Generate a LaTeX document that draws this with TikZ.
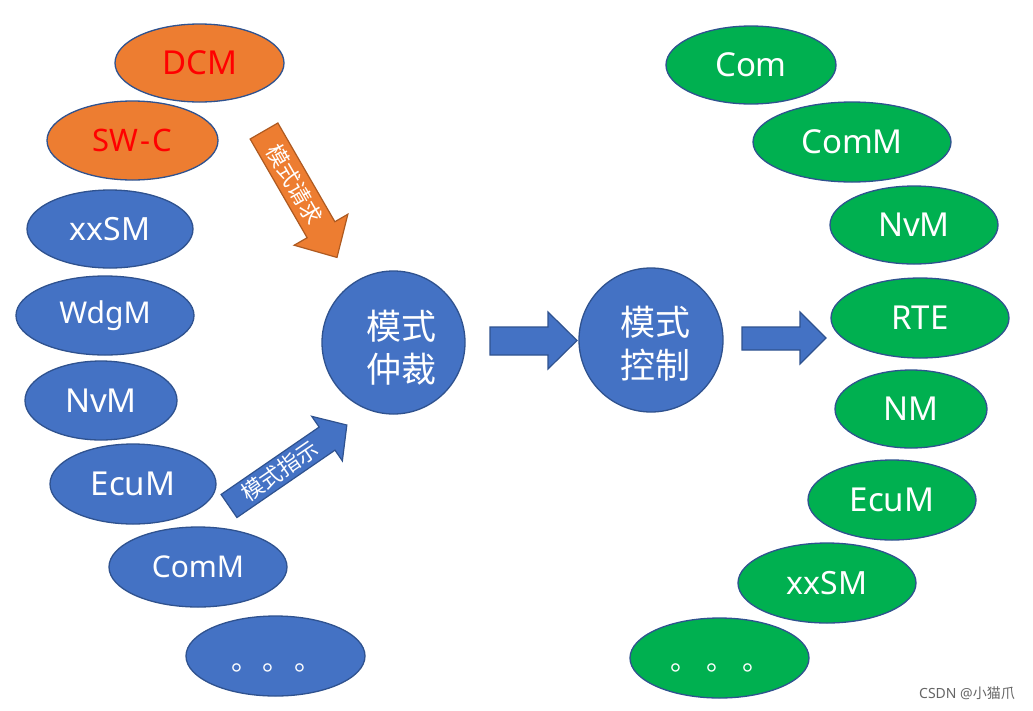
\documentclass[tikz,border=0pt]{standalone}
\usepackage{fontspec}
\setmainfont{Noto Sans}
\newfontfamily\cjk{Noto Sans CJK SC}
\usetikzlibrary{shapes.geometric}
\definecolor{blu}{HTML}{4472C4}
\definecolor{grn}{HTML}{00B050}
\definecolor{org}{HTML}{ED7D31}
\definecolor{bord}{HTML}{2F528F}
\definecolor{orgbord}{HTML}{AE5A21}
\begin{document}
\begin{tikzpicture}[x=1pt,y=-1pt,
  ell/.style={ellipse, draw=bord, line width=1.3pt, inner sep=0pt, text=white},
  blell/.style={ell, fill=blu},
  grell/.style={ell, fill=grn},
  orell/.style={ell, fill=org, text=red},
  fs/.style={font=\fontsize{#1}{#1}\selectfont},
  circ/.style={circle, draw=bord, line width=1.3pt, fill=blu, inner sep=0pt, text=white},
  blarrow/.style={fill=blu, draw=bord, line width=1.2pt, line join=miter},
  orarrow/.style={fill=org, draw=orgbord, line width=1.2pt, line join=miter},
  arrtext/.style={text=white, font=\cjk\fontsize{22}{22}\selectfont, inner sep=0pt},
  dots/.style={text=white, font=\cjk\fontsize{28}{28}\selectfont, inner sep=0pt, anchor=base west}
]
\useasboundingbox[fill=white] (0,0) rectangle (1033,710);

% left column
\node[orell, minimum width=169pt, minimum height=78pt, fs=33] (dcm) at (199.5,63) {DCM};
\node[orell, minimum width=171pt, minimum height=79pt, fs=31] (swc) at (132.5,140.5) {SW\kern2pt-\kern2ptC};
\node[blell, minimum width=166pt, minimum height=78pt, fs=32] (xxsmL) at (110,229) {xxSM};
\node[blell, minimum width=178pt, minimum height=79pt, fs=30] (wdgm) at (105,315.5) {WdgM};
\node[blell, minimum width=152pt, minimum height=79pt, fs=33] (nvmL) at (101,400.5) {NvM};
\node[blell, minimum width=166pt, minimum height=80pt, fs=33] (ecumL) at (133,484) {EcuM};
\node[blell, minimum width=178pt, minimum height=80pt, fs=30] (commL) at (198,567) {ComM};
\node[blell, minimum width=179pt, minimum height=80pt] (moreL) at (275.5,656) {};
\node[dots] (dotsL) at (231,670) {。\hspace{3.5pt}。\hspace{3.5pt}。};

% right column
\node[grell, minimum width=170pt, minimum height=78pt, fs=33] (comR) at (751,65) {Com};
\node[grell, minimum width=198pt, minimum height=80pt, fs=33] (commR) at (852,142) {ComM};
\node[grell, minimum width=168pt, minimum height=78pt, fs=33] (nvmR) at (914,225) {NvM};
\node[grell, minimum width=178pt, minimum height=80pt, fs=33] (rte) at (920,318) {RTE};
\node[grell, minimum width=152pt, minimum height=78pt, fs=33] (nm) at (911,409) {NM};
\node[grell, minimum width=168pt, minimum height=80pt, fs=33] (ecumR) at (892,500) {EcuM};
\node[grell, minimum width=178pt, minimum height=80pt, fs=32] (xxsmR) at (827,583) {xxSM};
\node[grell, minimum width=179pt, minimum height=80pt] (moreR) at (719.5,658) {};
\node[dots] (dotsR) at (670,670) {。\hspace{8pt}。\hspace{8pt}。};

% circles
\node[circ, minimum size=143pt] (arb) at (393.5,342.5) {};
\node[text=white, align=center, font=\cjk\fontsize{35}{43}\selectfont] (arbt) at (401,348) {模式\\仲裁};
\node[circ, minimum size=144pt] (ctl) at (651,340) {};
\node[text=white, align=center, font=\cjk\fontsize{35}{43}\selectfont] (ctlt) at (655,344) {模式\\控制};

% horizontal block arrows
\draw[blarrow] (490,327) -- (548,327) -- (548,312) -- (577,340.5) -- (548,369) -- (548,355) -- (490,355) -- cycle;
\draw[blarrow] (742,327) -- (800,327) -- (800,312) -- (826,338) -- (800,364) -- (800,350) -- (742,350) -- cycle;

% orange arrow (mode request)
\begin{scope}[shift={(264,131)}, rotate=-60]
  \draw[orarrow] (0,-16) -- (114,-16) -- (114,-31) -- (146,0) -- (114,31) -- (114,16) -- (0,16) -- cycle;
  \node[arrtext, rotate=-60] (req) at (62,0) {模式请求};
\end{scope}

% blue arrow (mode indication)
\begin{scope}[shift={(229,506)}, rotate=34.5]
  \draw[blarrow] (0,-14) -- (119,-14) -- (119,-27) -- (143,0) -- (119,27) -- (119,14) -- (0,14) -- cycle;
  \node[arrtext, rotate=34.5] (ind) at (62,0) {模式指示};
\end{scope}

\node[text=black!60, font=\fontsize{14}{14}\selectfont] (csdn) at (967,693) {CSDN @{\cjk 小猫爪}};
\end{tikzpicture}
\end{document}
